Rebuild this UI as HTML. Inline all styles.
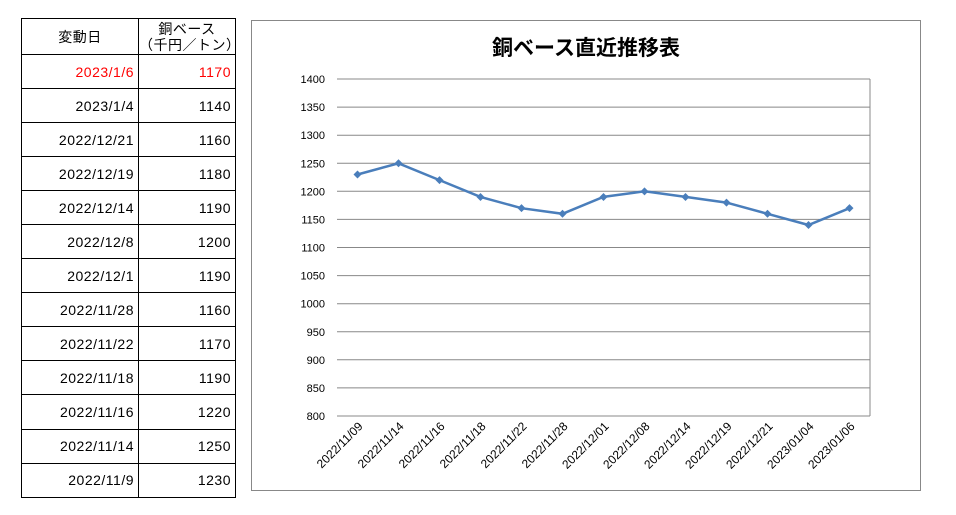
<!DOCTYPE html><html><head><meta charset="utf-8"><style>
body{margin:0;background:#fff;width:956px;height:515px;position:relative;font-family:"Liberation Sans","Noto Sans CJK JP",sans-serif;}
table{position:absolute;left:21px;top:18px;border-collapse:collapse;table-layout:fixed;width:214px;}
td{border:1.5px solid #000;height:33.05px;padding:0 4px 0 0;font-size:14px;text-align:right;letter-spacing:0.5px;}
col.a{width:117px}col.b{width:97px}
tr.h td{height:35px;text-align:center;line-height:16px;padding:0}
.red td{color:#f00}
</style></head><body>
<table><colgroup><col class="a"><col class="b"></colgroup>
<tr class="h"><td>変動日</td><td>銅ベース<br>（千円／トン）</td></tr>
<tr class="red"><td>2023/1/6</td><td>1170</td></tr>
<tr><td>2023/1/4</td><td>1140</td></tr>
<tr><td>2022/12/21</td><td>1160</td></tr>
<tr><td>2022/12/19</td><td>1180</td></tr>
<tr><td>2022/12/14</td><td>1190</td></tr>
<tr><td>2022/12/8</td><td>1200</td></tr>
<tr><td>2022/12/1</td><td>1190</td></tr>
<tr><td>2022/11/28</td><td>1160</td></tr>
<tr><td>2022/11/22</td><td>1170</td></tr>
<tr><td>2022/11/18</td><td>1190</td></tr>
<tr><td>2022/11/16</td><td>1220</td></tr>
<tr><td>2022/11/14</td><td>1250</td></tr>
<tr><td>2022/11/9</td><td>1230</td></tr>
</table>
<svg width="956" height="515" style="position:absolute;left:0;top:0" font-family="Liberation Sans, sans-serif">
<rect x="251.5" y="20.5" width="669" height="470" fill="none" stroke="#888"/>
<text x="586" y="55" text-anchor="middle" font-size="21" font-weight="bold" font-family="Liberation Sans, Noto Sans CJK JP, sans-serif">銅ベース直近推移表</text>
<g id="g"></g>
</svg>
<script>
const g=document.getElementById('g');let s='';
const y=v=>79+(1400-v)*337/600;
for(let v=800;v<=1400;v+=50){const yy=y(v).toFixed(1);s+=`<line x1="337" x2="870" y1="${yy}" y2="${yy}" stroke="#888"/><text x="325" y="${+yy+4}" text-anchor="end" font-size="11">${v}</text>`;}
s+=`<line x1="870" x2="870" y1="79" y2="416" stroke="#888"/>`;
const d=[["2022/11/09",1230],["2022/11/14",1250],["2022/11/16",1220],["2022/11/18",1190],["2022/11/22",1170],["2022/11/28",1160],["2022/12/01",1190],["2022/12/08",1200],["2022/12/14",1190],["2022/12/19",1180],["2022/12/21",1160],["2023/01/04",1140],["2023/01/06",1170]];
let p=d.map((e,i)=>`${357.5+i*41},${y(e[1]).toFixed(1)}`).join(' ');
s+=`<polyline points="${p}" fill="none" stroke="#4a7ebb" stroke-width="2.5"/>`;
d.forEach((e,i)=>{const x=357.5+i*41,yy=y(e[1]);s+=`<path d="M${x-4} ${yy}L${x} ${yy-4}L${x+4} ${yy}L${x} ${yy+4}Z" fill="#4a7ebb"/>`;
s+=`<text transform="translate(${x+6},${427}) rotate(-45)" text-anchor="end" font-size="12">${e[0]}</text>`;});
g.innerHTML=s;
</script>
</body></html>
